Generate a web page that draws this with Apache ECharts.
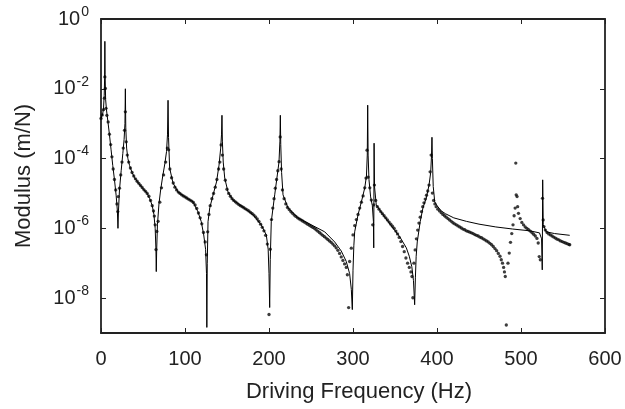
<!DOCTYPE html>
<html>
<head>
<meta charset="utf-8">
<script src="https://cdn.jsdelivr.net/npm/echarts@6/dist/echarts.min.js"></script>
<style>html,body{margin:0;padding:0;background:#fff}#c{width:625px;height:409px}</style>
</head>
<body>
<div id="c"></div>
<script>
// Values: [frequency Hz, log10(modulus in m/N)]
const xTicks = [0, 100, 200, 300, 400, 500, 600];
const yTickExponents = [0, -2, -4, -6, -8];

// Thin solid curve
const curvePoints = [
[0,-2.85],[1,-2.8],[2,-2.72],[3,-2.55],[3.8,-2.2],[4.3,-1.7],[4.6,-0.64],[4.9,-1.6],[5.5,-2.3],[6.5,-2.6],[8,-2.9],[10,-3.3],[12,-3.75],[14,-4.2],[16,-4.6],[18,-5.05],[19.5,-5.5],[20.2,-6.0],[20.8,-5.5],[22,-4.9],[24,-4.35],[26,-3.85],[27.5,-3.45],[28.5,-3.0],[29,-2.0],[29.5,-3.1],[30.5,-3.7],[32,-4.0],[34,-4.2],[37,-4.4],[40,-4.55],[45,-4.72],[50,-4.86],[55,-5.0],[58,-5.15],[61,-5.35],[63,-5.6],[64.5,-6.0],[65.4,-6.6],[65.8,-7.24],[66.3,-6.6],[67.2,-5.9],[69,-5.3],[71,-4.9],[73.5,-4.5],[76,-4.15],[78,-3.8],[79.2,-3.3],[79.8,-2.33],[80.4,-3.4],[81.7,-4.27],[85.7,-4.7],[91.7,-4.96],[100,-5.1],[109.5,-5.24],[115.5,-5.53],[119.4,-5.81],[122.3,-6.19],[124.5,-6.6],[125.6,-7.3],[126,-8.84],[126.5,-7.0],[127.4,-5.81],[129.5,-5.41],[133.5,-5.04],[137.5,-4.67],[140.5,-4.19],[142.5,-3.7],[143.5,-3.3],[144,-2.76],[144.5,-3.5],[145.5,-4.1],[147.3,-4.56],[151.2,-4.96],[157.1,-5.19],[169,-5.39],[181,-5.61],[190.8,-5.9],[196.8,-6.19],[199,-6.6],[200,-7.3],[200.8,-8.27],[201.5,-6.9],[202.7,-5.81],[204.8,-5.41],[206.8,-5.04],[209.9,-4.47],[211.9,-4.1],[213,-3.5],[213.5,-2.76],[214,-3.6],[215,-4.4],[216.7,-5.04],[222.6,-5.41],[234.5,-5.7],[250.4,-5.9],[266.3,-6.1],[278.2,-6.39],[286,-6.65],[292,-6.95],[296,-7.3],[298,-7.75],[299.2,-8.33],[300,-7.2],[301,-6.5],[302,-6.1],[306,-5.61],[310,-5.24],[314,-4.84],[316,-4.5],[317,-3.9],[317.5,-2.47],[318,-3.9],[319,-4.6],[321,-5.1],[323,-5.35],[324.3,-5.8],[324.7,-6.56],[325.1,-3.56],[325.6,-4.8],[327.7,-5.33],[335.7,-5.61],[347.6,-5.99],[355.6,-6.24],[363.5,-6.56],[367,-6.8],[370,-7.1],[372,-7.5],[373.4,-8.19],[374.3,-7.4],[375.2,-6.8],[376.5,-6.39],[380,-5.81],[383.3,-5.41],[387.3,-5.13],[390.5,-4.76],[392.5,-4.4],[393.5,-3.9],[394,-3.39],[394.5,-4.0],[395.5,-4.8],[397.3,-5.24],[400,-5.35],[405,-5.5],[410,-5.58],[420,-5.7],[435,-5.8],[450,-5.88],[470,-5.96],[490,-6.02],[510,-6.07],[522,-6.13],[524.5,-6.3],[525.3,-7.19],[525.8,-4.61],[526.5,-5.9],[530,-6.1],[540,-6.15],[558,-6.2]
];

// Dotted (measured) points
const dotPoints = [
[0,-2.85],[1.5,-2.75],[3,-2.6],[4,-2.27],[4.6,-1.66],[5.2,-1.99],[6,-2.56],[7,-2.76],[8.5,-2.95],[10,-3.3],[11.5,-3.6],[13,-3.95],[14.5,-4.3],[16,-4.6],[17.5,-4.9],[19,-5.3],[20,-5.52],[20.5,-5.09],[22,-4.85],[23.5,-4.47],[25,-4.1],[26.5,-3.7],[28,-3.19],[29,-2.66],[30,-3.52],[31.3,-3.9],[33,-4.1],[35,-4.27],[37,-4.4],[39,-4.5],[41,-4.58],[43,-4.65],[45,-4.71],[47,-4.77],[49,-4.83],[51,-4.89],[53,-4.94],[55,-5.0],[57,-5.08],[59,-5.2],[61,-5.35],[62.5,-5.5],[63.5,-5.65],[64.5,-5.9],[65.5,-6.61],[66.5,-6.09],[68,-5.8],[70,-5.25],[72,-4.84],[74.5,-4.47],[77,-4.1],[79,-3.7],[80.5,-3.75],[82,-4.3],[84,-4.55],[86,-4.7],[88,-4.82],[90,-4.9],[92,-4.96],[94,-5.0],[96,-5.04],[98,-5.07],[100,-5.1],[102,-5.13],[104,-5.16],[106,-5.19],[108,-5.22],[110,-5.26],[112,-5.33],[114,-5.43],[116,-5.56],[118,-5.7],[120,-5.87],[122,-6.12],[124,-6.39],[125.5,-6.76],[127,-6.1],[128.5,-5.6],[130,-5.35],[132,-5.15],[134,-5.0],[136,-4.82],[138,-4.6],[140,-4.3],[141.5,-4.1],[143,-3.61],[144.5,-3.9],[146,-4.3],[148,-4.62],[150,-4.88],[152,-5.0],[154,-5.08],[156,-5.15],[158,-5.2],[160,-5.24],[162,-5.28],[164,-5.32],[166,-5.35],[168,-5.38],[170,-5.41],[172,-5.44],[174,-5.47],[176,-5.5],[178,-5.54],[180,-5.58],[182,-5.62],[184,-5.67],[186,-5.73],[188,-5.8],[190,-5.88],[192,-5.97],[194,-6.07],[196,-6.2],[198,-6.45],[200,-8.47],[201.5,-6.6],[203,-5.75],[204.5,-5.42],[206,-5.15],[207.5,-4.85],[209,-4.6],[210.5,-4.35],[212,-4.09],[213.3,-3.38],[214.5,-4.3],[216,-4.9],[218,-5.15],[220,-5.3],[222,-5.4],[224,-5.46],[226,-5.52],[228,-5.57],[230,-5.62],[232,-5.66],[234,-5.7],[236,-5.73],[238,-5.76],[240,-5.79],[242,-5.82],[244,-5.85],[246,-5.88],[248,-5.91],[250,-5.94],[252,-5.97],[254,-6.0],[256,-6.04],[258,-6.08],[260,-6.12],[262,-6.16],[264,-6.2],[266,-6.24],[268,-6.28],[270,-6.32],[272,-6.36],[274,-6.4],[276,-6.45],[278,-6.5],[280,-6.56],[282,-6.63],[284,-6.72],[286,-6.82],[288,-6.92],[290,-7.02],[292,-7.12],[293.3,-7.33],[294.8,-8.27],[296,-6.95],[298,-6.57],[300,-6.19],[302,-5.92],[304,-5.75],[306,-5.6],[308,-5.42],[310,-5.25],[312,-5.07],[314,-4.84],[315.5,-4.56],[316.7,-3.76],[318,-4.53],[320,-4.84],[321.8,-5.19],[323.5,-5.9],[324.8,-5.33],[325.5,-4.76],[327,-5.2],[329,-5.38],[331,-5.45],[333,-5.52],[335,-5.58],[337,-5.64],[339,-5.7],[341,-5.76],[343,-5.82],[345,-5.88],[347,-5.94],[349,-6.0],[351,-6.08],[353,-6.16],[355,-6.26],[357,-6.38],[359,-6.52],[361,-6.67],[363,-6.85],[365,-7.0],[367,-7.12],[369,-7.25],[370.2,-7.38],[371.3,-7.99],[372.5,-7.0],[374,-6.62],[375.5,-6.3],[377,-6.05],[378.5,-5.85],[380,-5.68],[381.5,-5.52],[383,-5.38],[384.5,-5.27],[386,-5.16],[387.5,-5.05],[389,-4.93],[390.5,-4.76],[391.8,-4.38],[393,-3.9],[394.5,-4.99],[396,-5.2],[397.5,-5.3],[399,-5.38],[401,-5.45],[403,-5.5],[405,-5.55],[407,-5.6],[409,-5.64],[411,-5.68],[413,-5.72],[415,-5.76],[417,-5.8],[419,-5.84],[421,-5.87],[423,-5.9],[425,-5.93],[427,-5.96],[429,-5.99],[431,-6.02],[433,-6.04],[435,-6.07],[437,-6.09],[439,-6.11],[441,-6.13],[443,-6.15],[445,-6.18],[447,-6.2],[449,-6.22],[451,-6.25],[453,-6.27],[455,-6.3],[457,-6.33],[459,-6.36],[461,-6.39],[463,-6.43],[465,-6.47],[467,-6.52],[469,-6.58],[471,-6.64],[473,-6.72],[475,-6.8],[476.5,-6.9],[478,-7.0],[479.3,-7.12],[480.3,-7.25],[481.3,-7.38],[482.5,-8.77],[484.5,-7.0],[486,-6.71],[487.5,-6.4],[489,-6.15],[490.5,-5.9],[491.8,-5.64],[493,-5.42],[493.8,-4.13],[494.3,-5.04],[495.3,-5.09],[496,-5.38],[497,-5.57],[499,-5.72],[501,-5.83],[503,-5.9],[505,-5.96],[507,-6.0],[509,-6.04],[511,-6.08],[513,-6.12],[515,-6.17],[517,-6.22],[519,-6.29],[520.5,-6.42],[521.7,-6.81],[523,-6.9],[525.6,-5.14],[526.4,-5.76],[527.3,-5.95],[529,-6.05],[531,-6.12],[533,-6.16],[535,-6.19],[537,-6.22],[539,-6.25],[541,-6.28],[543,-6.31],[545,-6.33],[547,-6.36],[549,-6.38],[551,-6.4],[553,-6.42],[555,-6.44],[557,-6.46],[558,-6.47]
];

const toValue = p => [p[0], Math.pow(10, p[1])];
const FONT = "'Liberation Sans', Arial, Helvetica, sans-serif";
const INK = '#222';

const chart = echarts.init(document.getElementById('c'), null, {renderer: 'canvas'});

function yLabel(v) {
  const e = Math.round(Math.log10(v));
  if (yTickExponents.indexOf(e) < 0) return '';
  return '{b|10}{s|' + e + '}';
}

const xCommon = {
  type: 'value', min: xTicks[0], max: xTicks[xTicks.length - 1], interval: 100,
  splitLine: {show: false},
  axisLine: {show: true, onZero: false, lineStyle: {color: INK, width: 1.8}},
  axisTick: {show: true, inside: true, length: 5, lineStyle: {color: INK, width: 1}}
};
const yCommon = {
  type: 'log', logBase: 100, min: 1e-9, max: 1,
  splitLine: {show: false},
  axisLine: {show: true, onZero: false, lineStyle: {color: INK, width: 1.8}},
  axisTick: {show: true, inside: true, length: 5, lineStyle: {color: INK, width: 1}}
};

chart.setOption({
  animation: false,
  backgroundColor: '#fff',
  grid: {left: 101, right: 20, top: 19, bottom: 76, containLabel: false},
  xAxis: [
    Object.assign({}, xCommon, {
      position: 'bottom',
      name: 'Driving Frequency (Hz)', nameLocation: 'middle', nameGap: 48,
      nameTextStyle: {fontFamily: FONT, fontSize: 22, color: INK, padding: [0, 0, 0, 12]},
      axisLabel: {show: true, margin: 16, fontFamily: FONT, fontSize: 20, color: INK}
    }),
    Object.assign({}, xCommon, {position: 'top', axisLabel: {show: false}})
  ],
  yAxis: [
    Object.assign({}, yCommon, {
      position: 'left',
      name: 'Modulus (m/N)', nameLocation: 'middle', nameGap: 66, nameRotate: 90,
      nameTextStyle: {fontFamily: FONT, fontSize: 22, color: INK},
      axisLabel: {
        show: true, margin: 12, formatter: yLabel, showMinLabel: false,
        rich: {
          b: {fontFamily: FONT, fontSize: 20, color: INK},
          s: {fontFamily: FONT, fontSize: 14, color: INK, padding: [0, 0, 14, 1]}
        }
      }
    }),
    Object.assign({}, yCommon, {position: 'right', axisLabel: {show: false}})
  ],
  series: [
    {
      name: 'measured', type: 'scatter', xAxisIndex: 0, yAxisIndex: 0,
      data: dotPoints.map(toValue), symbol: 'circle', symbolSize: 3.3,
      itemStyle: {color: '#0d0d0d'}, z: 2, silent: true
    },
    {
      name: 'model', type: 'line', xAxisIndex: 0, yAxisIndex: 0,
      data: curvePoints.map(toValue), showSymbol: false, symbol: 'none',
      lineStyle: {color: '#000', width: 1}, z: 3, silent: true, sampling: null
    }
  ]
});
</script>
</body>
</html>
